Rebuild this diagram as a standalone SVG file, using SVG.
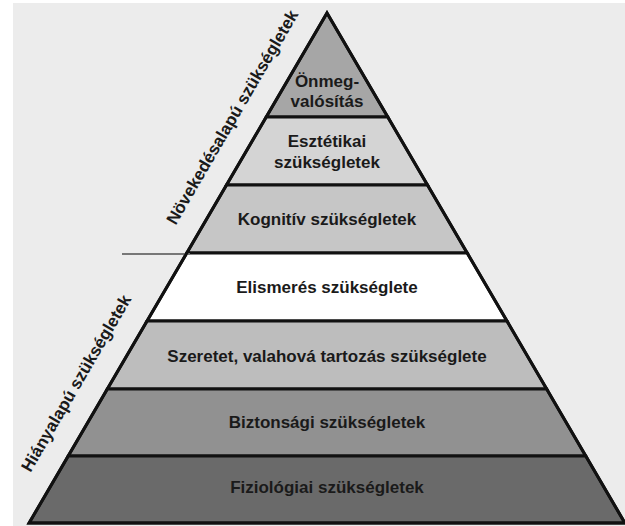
<svg xmlns="http://www.w3.org/2000/svg" width="625" height="526" viewBox="0 0 625 526">
<style>
.band{stroke:#111;stroke-width:3;stroke-linejoin:miter}
.lbl{font-family:"Liberation Sans",Arial,sans-serif;font-weight:bold;font-size:17px;fill:#1a1a1a;text-anchor:middle}
.side{font-family:"Liberation Sans",Arial,sans-serif;font-weight:bold;font-size:17px;fill:#1a1a1a;text-anchor:middle}
</style>
<rect x="0" y="0" width="625" height="526" fill="#ffffff"/>
<rect x="13" y="3" width="612" height="523" fill="#ececec"/>
<g id="onmegvalositas">
<polygon class="band" points="327,13 387.8,117 266.2,117" fill="#a6a6a6"/>
<text class="lbl" x="327" y="87">Önmeg-</text>
<text class="lbl" x="327" y="107">valósítás</text>
</g>
<g id="esztetikai">
<polygon class="band" points="266.2,117 387.8,117 427.5,185 226.5,185" fill="#d4d4d4"/>
<text class="lbl" x="327" y="147">Esztétikai</text>
<text class="lbl" x="327" y="168">szükségletek</text>
</g>
<g id="kognitiv">
<polygon class="band" points="226.5,185 427.5,185 467.2,253 186.8,253" fill="#c6c6c6"/>
<text class="lbl" x="327" y="225">Kognitív szükségletek</text>
</g>
<g id="elismeres">
<polygon class="band" points="186.8,253 467.2,253 507,321 147,321" fill="#ffffff"/>
<text class="lbl" x="327" y="293">Elismerés szükséglete</text>
</g>
<g id="szeretet">
<polygon class="band" points="147,321 507,321 546.7,389 107.3,389" fill="#bdbdbd"/>
<text class="lbl" x="327" y="362">Szeretet, valahová tartozás szükséglete</text>
</g>
<g id="biztonsagi">
<polygon class="band" points="107.3,389 546.7,389 585.8,456 68.2,456" fill="#919191"/>
<text class="lbl" x="327" y="428">Biztonsági szükségletek</text>
</g>
<g id="fiziologiai">
<polygon class="band" points="68.2,456 585.8,456 624.9,523 29.1,523" fill="#6a6a6a"/>
<text class="lbl" x="327" y="493">Fiziológiai szükségletek</text>
</g>
<g id="connectors">
<line x1="122" y1="254" x2="190" y2="254" stroke="#777" stroke-width="2"/>
<polygon points="327,13 624.9,523 29.1,523" fill="none" stroke="#111" stroke-width="3"/>
</g>
<g id="novekedes-label">
<text class="side" transform="translate(232,117) rotate(-59.8)" dy="6">Növekedésalapú szükségletek</text>
</g>
<g id="hiany-label">
<text class="side" transform="translate(76,383) rotate(-59.8)" dy="6">Hiányalapú szükségletek</text>
</g>
</svg>
